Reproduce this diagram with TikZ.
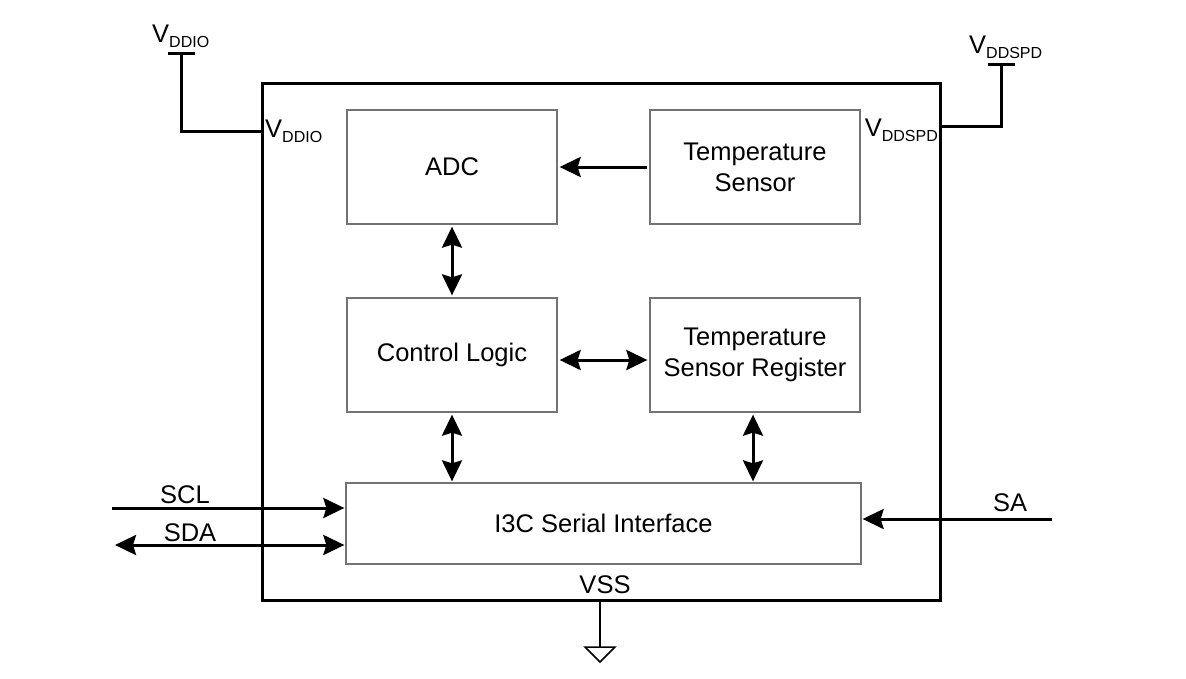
\documentclass[tikz,border=0pt]{standalone}
\usepackage{fontspec}
\setmainfont{Liberation Sans}
\usetikzlibrary{arrows.meta,calc}
\tikzset{
  blk/.style={draw=black!55, line width=1.3pt, fill=white, minimum width=210pt, minimum height=114pt, align=center, inner sep=0pt, font=\fontsize{25.5}{31}\selectfont},
  outerbox/.style={draw=black, line width=3pt, minimum width=678pt, minimum height=517pt, inner sep=0pt},
  wire/.style={line width=3pt},
  arr/.style={line width=3pt, -{Stealth[length=21pt,width=20pt,inset=3pt]}},
  darr/.style={line width=3pt, {Stealth[length=21pt,width=20pt,inset=3pt]}-{Stealth[length=21pt,width=20pt,inset=3pt]}},
  lbl/.style={font=\fontsize{25.5}{31}\selectfont, inner sep=0pt},
}
\newcommand{\vsub}[1]{V\raisebox{-0.35ex}{\fontsize{16}{16}\selectfont #1}}
\begin{document}
\begin{tikzpicture}[x=1pt,y=-1pt]
\useasboundingbox (0,0) rectangle (1186,678);
\fill[white] (0,0) rectangle (1186,678);
% outer chip
\node[outerbox] (chip) at (601,341.5) {};
% blocks
\node[blk] (adc) at (452,167) {ADC};
\node[blk] (tsens) at (755,167) {Temperature\\Sensor};
\node[blk] (ctrl) at (452,355) {Control Logic};
\node[blk] (treg) at (755,355) {Temperature\\Sensor Register};
\node[blk, minimum width=515pt, minimum height=81pt] (i3c) at (603.5,523.5) {I3C Serial Interface};
% internal arrows
\draw[arr] ([xshift=-2pt]tsens.west) -- ([xshift=2pt]adc.east);
\draw[darr] ([yshift=-2pt]adc.south) -- ([yshift=2pt]ctrl.north);
\draw[darr] ([xshift=2pt,yshift=-5pt]ctrl.east) -- ([xshift=-2pt,yshift=-5pt]treg.west);
\draw[darr] ([yshift=-2pt]ctrl.south) -- ([yshift=1pt]ctrl.south |- i3c.north);
\draw[darr] ([xshift=-2pt,yshift=-2pt]treg.south) -- ([xshift=-2pt,yshift=1pt]treg.south |- i3c.north);
% SCL / SDA / SA
\coordinate (scl) at (112,508);
\coordinate (sda) at (115,545);
\coordinate (sa) at (1052,519);
\draw[arr] (scl) -- ([xshift=-1pt]scl -| i3c.west);
\draw[darr] (sda) -- ([xshift=-1pt]sda -| i3c.west);
\draw[arr] (sa) -- ([xshift=1pt]sa -| i3c.east);
\node[lbl] (scllbl) at (185,495) {SCL};
\node[lbl] (sdalbl) at (190,533) {SDA};
\node[lbl] (salbl) at (1010,503) {SA};
% VDDIO
\coordinate (vio) at (181,53);
\coordinate (viocorner) at (181,131);
\draw[wire] (168,53) -- (195,53);
\draw[wire] (vio) -- (viocorner) -- (viocorner -| chip.west);
\node[lbl, anchor=south west] (violbl) at (152,48) {\vsub{DDIO}};
\node[lbl, anchor=west] (vioin) at (265,131) {\vsub{DDIO}};
% VDDSPD
\coordinate (vspd) at (1001,64);
\coordinate (vspdcorner) at (1001,126);
\draw[wire] (988,64) -- (1015,64);
\draw[wire] (vspd) -- (vspdcorner) -- (vspdcorner -| chip.east);
\node[lbl, anchor=south west] (vspdlbl) at (969,59) {\vsub{DDSPD}};
\node[lbl, anchor=east] (vspdin) at (938,130) {\vsub{DDSPD}};
% VSS
\node[lbl] (vsslbl) at (605,585) {VSS};
\coordinate (gnd) at (600,647);
\draw[line width=1.5pt] (chip.south -| gnd) -- (gnd);
\draw[line width=1.5pt] (585,647) -- (615,647) -- (600,662) -- cycle;
\end{tikzpicture}
\end{document}
